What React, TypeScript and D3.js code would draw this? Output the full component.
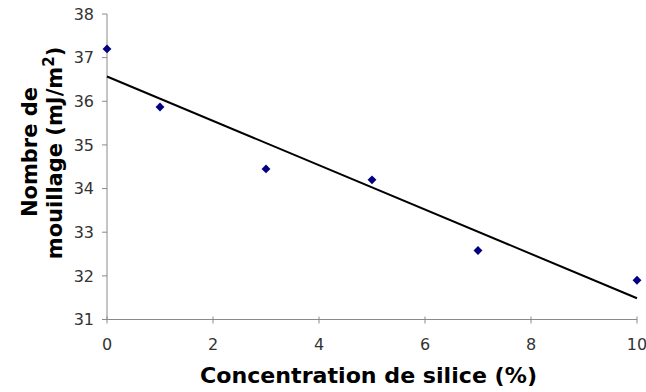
import React from "react";
import * as d3 from "d3";

const xValues = [0, 1, 3, 5, 7, 10];
const yValues = [37.2, 35.87, 34.45, 34.2, 32.58, 31.9];
const xTicks = [0, 2, 4, 6, 8, 10];
const yTicks = [31, 32, 33, 34, 35, 36, 37, 38];
const xTitle = "Concentration de silice (%)";
const yTitleLine1 = "Nombre de";
const yTitleLine2 = "mouillage (mJ/m";

export default function App() {
  const W = 646, H = 392;
  const x = d3.scaleLinear().domain([0, 10]).range([107, 637]);
  const y = d3.scaleLinear().domain([31, 38]).range([319.5, 14]);

  // least squares trend line
  const mx = d3.mean(xValues)!;
  const my = d3.mean(yValues)!;
  const sxy = d3.sum(xValues.map((v, i) => (v - mx) * (yValues[i] - my)));
  const sxx = d3.sum(xValues.map((v) => (v - mx) ** 2));
  const slope = sxy / sxx;
  const intercept = my - slope * mx;
  const line = d3.line<number>().x((d) => x(d)).y((d) => y(intercept + slope * d));

  const diamond = d3.symbol().type(d3.symbolDiamond2).size(50)()!;
  const axisColor = "#8a8a8a";
  const font = "DejaVu Sans, Verdana, sans-serif";

  return (
    <svg width={W} height={H} style={{ position: "absolute", left: 0, top: 0, background: "#fff" }} fontFamily={font}>
      {/* axes */}
      <line x1={x(0)} x2={x(0)} y1={y(38)} y2={y(31)} stroke={axisColor} strokeWidth={1} />
      <line x1={x(0)} x2={x(10)} y1={y(31)} y2={y(31)} stroke={axisColor} strokeWidth={1} />
      {yTicks.map((t) => (
        <g key={"y" + t}>
          <line x1={x(0) - 5} x2={x(0)} y1={y(t)} y2={y(t)} stroke={axisColor} />
          <text x={x(0) - 13} y={y(t)} dy="0.36em" textAnchor="end" fontSize={16} fill="#333">{t}</text>
        </g>
      ))}
      {xTicks.map((t) => (
        <g key={"x" + t}>
          <line x1={x(t)} x2={x(t)} y1={y(31) - 3} y2={y(31) + 4} stroke={axisColor} />
          <text x={x(t)} y={y(31) + 30} textAnchor="middle" fontSize={16} fill="#333">{t}</text>
        </g>
      ))}
      {/* trend line */}
      <path d={line([0, 10])!} stroke="#000" strokeWidth={2} fill="none" />
      {/* points */}
      {xValues.map((v, i) => (
        <path key={i} d={diamond} transform={`translate(${x(v)},${y(yValues[i])})`} fill="#000080" />
      ))}
      {/* titles */}
      <text x={200} y={383} fontSize={22} fontWeight="bold" fill="#000" textLength={337} lengthAdjust="spacingAndGlyphs">{xTitle}</text>
      <g transform="translate(37,152) rotate(-90)">
        <text x={0} y={0} textAnchor="middle" fontSize={21} fontWeight="bold" fill="#000">{yTitleLine1}</text>
      </g>
      <g transform="translate(62,153) rotate(-90)">
        <text x={0} y={0} textAnchor="middle" fontSize={21} fontWeight="bold" fill="#000">
          {yTitleLine2}
          <tspan dy={-8} fontSize={15}>2</tspan>
          <tspan dy={8}>)</tspan>
        </text>
      </g>
    </svg>
  );
}
